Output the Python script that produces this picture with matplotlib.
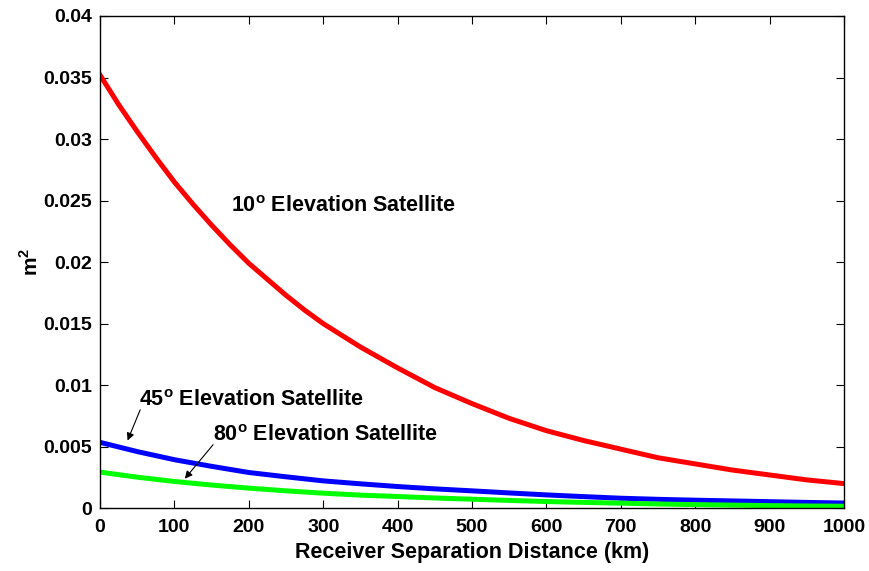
import numpy as np
import matplotlib
matplotlib.use('Agg')
import matplotlib.pyplot as plt
from matplotlib.ticker import FuncFormatter

plt.rcParams['font.family'] = 'Liberation Sans'
plt.rcParams['font.weight'] = 'bold'
plt.rcParams['mathtext.fontset'] = 'custom'
plt.rcParams['mathtext.rm'] = 'Liberation Sans:bold'
plt.rcParams['mathtext.bf'] = 'Liberation Sans:bold'

# 10 deg curve is steep near 0, so read every 25 km up to 300
dist_red = [0, 25, 50, 75, 100, 125, 150, 175, 200, 225, 250, 275, 300,
            350, 400, 450, 500, 550, 600, 650, 700, 750, 800, 850, 900, 950, 1000]
elev10 = [0.0352, 0.0328, 0.0306, 0.0285, 0.0265, 0.0247, 0.0230, 0.0214, 0.0199, 0.0186, 0.0173, 0.0161, 0.0150,
          0.0131, 0.0114, 0.0098, 0.0085, 0.0073, 0.0063, 0.0055, 0.0048, 0.0041, 0.0036, 0.0031, 0.0027, 0.0023, 0.0020]

# the other two read every 50 km
dist_km = [0, 50, 100, 150, 200, 250, 300, 350, 400, 450, 500,
           550, 600, 650, 700, 750, 800, 850, 900, 950, 1000]
elev45 = [0.00535, 0.0046, 0.00394, 0.0034, 0.0029, 0.00255, 0.00222, 0.00198, 0.00176, 0.00157, 0.00141,
          0.00124, 0.00108, 0.00094, 0.00081, 0.00072, 0.00065, 0.00059, 0.00053, 0.00047, 0.00042]
elev80 = [0.00293, 0.00252, 0.00217, 0.00188, 0.00163, 0.00141, 0.00122, 0.00106, 0.00095, 0.00083, 0.00073,
          0.00063, 0.00054, 0.00047, 0.00041, 0.00034, 0.00029, 0.00025, 0.00021, 0.00018, 0.00016]

fig = plt.figure(figsize=(8.7, 5.71), dpi=100)
ax = fig.add_axes([0.115, 0.110, 0.855, 0.862])

ax.plot(dist_red, elev10, color='#ff0000', lw=3.6)
ax.plot(dist_km, elev45, color='#0000ff', lw=3.6)
ax.plot(dist_km, elev80, color='#00ff00', lw=3.6)

ax.set_xlim(0, 1000)
ax.set_ylim(0, 0.04)
ax.set_xticks(np.arange(0, 1001, 100))
ax.set_yticks(np.arange(0, 0.0401, 0.005))
ax.yaxis.set_major_formatter(FuncFormatter(lambda v, p: '%g' % round(v, 4)))
ax.tick_params(direction='in', top=True, right=True, length=6, width=0.8, labelsize=14)
ax.tick_params(axis='x', pad=8)
ax.tick_params(axis='y', pad=6)
for s in ax.spines.values():
    s.set_linewidth(1.0)

ax.set_xlabel('Receiver Separation Distance (km)', fontsize=15.5, fontweight='bold', labelpad=4)
ax.set_ylabel(r'm$^2$', fontsize=15, fontweight='bold', labelpad=1)

# curve labels and arrows
ax.text(176, 0.0241, r'10$^\mathrm{o}$ Elevation Satellite', fontsize=15.5, fontweight='bold')
ax.text(52, 0.0083, r'45$^\mathrm{o}$ Elevation Satellite', fontsize=15.5, fontweight='bold')
ax.text(152, 0.0055, r'80$^\mathrm{o}$ Elevation Satellite', fontsize=15.5, fontweight='bold')
arrow = dict(arrowstyle='-|>', color='k', lw=0.8, mutation_scale=11, shrinkA=0, shrinkB=0)
ax.annotate('', xy=(37, 0.0055), xytext=(54, 0.0080), arrowprops=arrow)
ax.annotate('', xy=(114, 0.0024), xytext=(152, 0.00516), arrowprops=arrow)

fig.savefig('out.png', dpi=100)
